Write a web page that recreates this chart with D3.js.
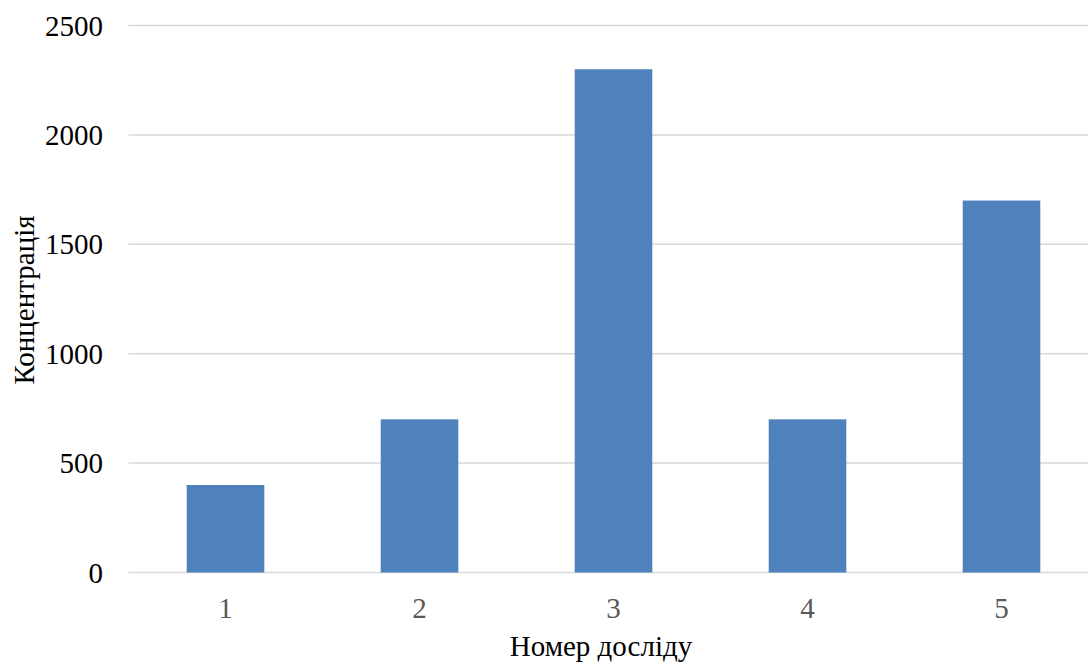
<!DOCTYPE html>
<html><head><meta charset="utf-8">
<script src="https://cdn.jsdelivr.net/npm/d3@7"></script>
<style>body{margin:0;background:#fff}</style>
</head><body>
<svg id="c" width="1088" height="663"></svg>
<script>
const categories = ["1","2","3","4","5"];
const values = [400, 700, 2300, 700, 1700];
const yTicks = [0, 500, 1000, 1500, 2000, 2500];
const xTitle = "Номер досліду";
const yTitle = "Концентрація";

const svg = d3.select("#c");
const font = "'Liberation Serif','Times New Roman',serif";
const x = d3.scaleBand().domain(categories).range([128.5, 1098.5]).paddingInner(0.6).paddingOuter(0.3);
const y = d3.scaleLinear().domain([0, 2500]).range([572.5, 25.5]);

// gridlines
svg.append("g").selectAll("line").data(yTicks).join("line")
  .attr("x1", 128.5).attr("x2", 1098.5)
  .attr("y1", d => y(d)).attr("y2", d => y(d))
  .attr("stroke", "#d9d9d9").attr("stroke-width", 1.5);

// bars
svg.append("g").selectAll("rect").data(values).join("rect")
  .attr("x", (d,i) => x(categories[i]))
  .attr("width", x.bandwidth())
  .attr("y", d => y(d))
  .attr("height", d => y(0) - y(d))
  .attr("fill", "#4f81bd");

// y tick labels
svg.append("g").selectAll("text").data(yTicks).join("text")
  .attr("x", 103).attr("y", d => y(d)).attr("dy", "0.35em")
  .attr("text-anchor", "end")
  .attr("font-family", font).attr("font-size", 29).attr("fill", "#000")
  .text(d => d);

// x tick labels
svg.append("g").selectAll("text").data(categories).join("text")
  .attr("x", d => x(d) + x.bandwidth()/2).attr("y", 618)
  .attr("text-anchor", "middle")
  .attr("font-family", font).attr("font-size", 29).attr("fill", "#595959")
  .text(d => d);

svg.append("text").attr("x", 601).attr("y", 656).attr("text-anchor", "middle")
  .attr("font-family", font).attr("font-size", 29).attr("fill", "#000").text(xTitle);

svg.append("text").attr("transform", "translate(34,300) rotate(-90)").attr("text-anchor", "middle")
  .attr("font-family", font).attr("font-size", 29).attr("fill", "#000").text(yTitle);
</script>
</body></html>
